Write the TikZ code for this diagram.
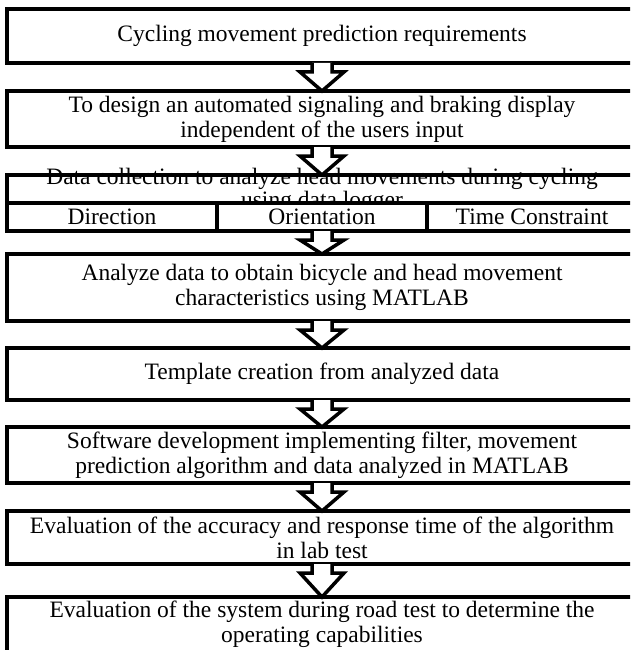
\documentclass[tikz,border=0pt]{standalone}
\usepackage{fontspec}
\setmainfont{Liberation Serif}
\usetikzlibrary{positioning}

\begin{document}
\begin{tikzpicture}[x=1pt,y=-1pt,
  stage/.style={draw, line width=3.5pt, minimum width=630pt, inner sep=0pt, outer sep=0pt,
    align=center, font=\fontsize{23.5}{25}\selectfont},
  cell/.style={stage, fill=white, minimum width=210pt, minimum height=28pt},
  hook/.style={draw, fill=white, line width=3.5pt, line join=miter}]
\useasboundingbox (0,0) rectangle (630,650);
\clip (0,0) rectangle (630,650);

% stages of the work
\node[stage, minimum height=54pt] (req) at (322,36) {Cycling movement prediction requirements};
\node[stage, minimum height=56pt] (design) at (322,119) {To design an automated signaling and braking display\\independent of the users input};
\node[font=\fontsize{23.5}{23}\selectfont, align=center, inner sep=0pt] (collecttxt) at (322,190)
  {Data collection to analyze head movements during cycling\\using data logger};
\node[stage, minimum height=56pt] (collect) at (322,203) {};
\node[cell] (dir) at (112,217) {Direction};
\node[cell] (orient) at (322,217) {Orientation};
\node[cell] (timec) at (532,217) {Time Constraint};
\node[stage, minimum height=67pt] (analyze) at (322,287.5) {Analyze data to obtain bicycle and head movement\\characteristics using MATLAB};
\node[stage, minimum height=52pt] (template) at (322,374) {Template creation from analyzed data};
\node[stage, minimum height=56pt] (software) at (322,455) {Software development implementing filter, movement\\prediction algorithm and data analyzed in MATLAB};
\node[stage, minimum height=53pt] (labtest) at (322,537.5) {Evaluation of the accuracy and response time of the algorithm\\in lab test};
\node[stage, minimum height=55pt] (roadtest) at (322,624.5) {Evaluation of the system during road test to determine the\\operating capabilities};

% hooked block arrows between stages
\foreach \a/\b in {req/design,design/collect,collect/analyze,analyze/template,
                   template/software,software/labtest,labtest/roadtest}
  \draw[hook] ([xshift=-10pt]\a.south) -- ++(0,9) -- ++(-12,0) -- (\b.north)
    -- ([xshift=22pt,yshift=-9pt]\a.south) -- ++(-12,0) -- ++(0,-9);
\end{tikzpicture}
\end{document}
